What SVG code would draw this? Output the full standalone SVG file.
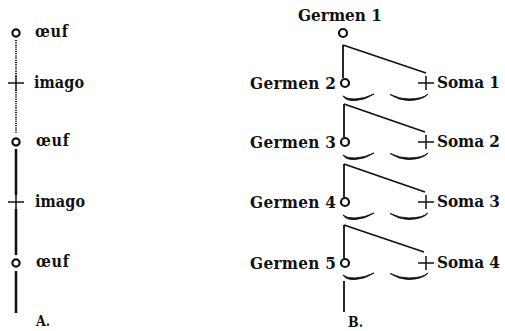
<svg xmlns="http://www.w3.org/2000/svg" width="505" height="331" viewBox="0 0 505 331">
<style>
.t{font-family:"DejaVu Serif","Liberation Serif",serif;font-weight:bold;font-stretch:condensed;fill:#111}
.la{font-size:16px}
.lb{font-size:17px}
.cap{font-size:14px}
.ring{fill:none;stroke:#111;stroke-width:2.2}
.ln{stroke:#111;fill:none;stroke-width:1.8}
.thick{stroke:#111;fill:none;stroke-width:2.6}
.dot{stroke:#111;fill:none;stroke-width:2;stroke-dasharray:1 1.2}
.cr{stroke:#111;fill:none;stroke-width:1.5}
.br{stroke:#111;fill:#111;stroke-width:0.9;stroke-linejoin:round}
</style>
<defs>
<path id="brace" class="br" d="M0,-1 Q3,4 12,3.5 Q22,3 31,-3 Q22,1.5 12,2 Q4,2.5 0,-1 Z M47,-2.5 Q56,3.5 66,3.5 Q80,3 85,-3 Q80,1.8 66,2 Q57,2 47,-2.5 Z"/>
<g id="cross"><line x1="-8" y1="0" x2="8" y2="0"/><line x1="0" y1="-7" x2="0" y2="7"/></g>
</defs>
<rect width="505" height="331" fill="#fff"/>

<!-- Panel A -->
<g id="panelA-connectors">
<line class="dot" x1="16" y1="40" x2="16" y2="77"/>
<line class="dot" x1="16" y1="90" x2="16" y2="134"/>
<line class="thick" x1="16" y1="149" x2="16" y2="195"/>
<line class="thick" x1="16" y1="209" x2="16" y2="255"/>
<line class="thick" x1="16" y1="271" x2="16" y2="313"/>
</g>
<g id="a-oeuf1"><circle class="ring" cx="16" cy="33" r="3.6"/><text class="t la" x="35" y="37" textLength="33">œuf</text></g>
<g id="a-imago1"><use href="#cross" class="cr" x="16" y="83"/><text class="t la" x="34" y="88" textLength="50">imago</text></g>
<g id="a-oeuf2"><circle class="ring" cx="16" cy="142" r="3.6"/><text class="t la" x="36" y="146" textLength="33">œuf</text></g>
<g id="a-imago2"><use href="#cross" class="cr" x="16" y="202"/><text class="t la" x="35" y="207" textLength="50">imago</text></g>
<g id="a-oeuf3"><circle class="ring" cx="16" cy="263" r="3.6"/><text class="t la" x="36" y="267" textLength="33">œuf</text></g>
<text id="labelA" class="t cap" x="36" y="326">A.</text>

<!-- Panel B -->
<g id="panelB-connectors">
<line class="ln" x1="343" y1="45" x2="343" y2="78"/>
<line class="ln" x1="343" y1="45" x2="426" y2="73"/>
<use href="#brace" x="343" y="97"/>
<line class="ln" x1="344" y1="104" x2="344" y2="137"/>
<line class="ln" x1="344" y1="104" x2="425" y2="132"/>
<use href="#brace" x="343" y="156"/>
<line class="ln" x1="344" y1="164" x2="344" y2="197"/>
<line class="ln" x1="344" y1="164" x2="425" y2="192"/>
<use href="#brace" x="343" y="216"/>
<line class="ln" x1="344" y1="225" x2="344" y2="258"/>
<line class="ln" x1="344" y1="225" x2="424" y2="252"/>
<use href="#brace" x="343" y="276"/>
<line class="ln" x1="344" y1="281" x2="344" y2="312"/>
</g>
<g id="germen1"><circle class="ring" cx="343" cy="33" r="4"/><text class="t lb" x="298" y="21" textLength="84">Germen 1</text></g>
<g id="germen2"><circle class="ring" cx="345" cy="83" r="4"/><text class="t lb" x="250" y="89" textLength="86">Germen 2</text></g>
<g id="germen3"><circle class="ring" cx="345" cy="142" r="4"/><text class="t lb" x="250" y="148" textLength="86">Germen 3</text></g>
<g id="germen4"><circle class="ring" cx="345" cy="202" r="4"/><text class="t lb" x="250" y="208" textLength="86">Germen 4</text></g>
<g id="germen5"><circle class="ring" cx="345" cy="263" r="4"/><text class="t lb" x="250" y="269" textLength="86">Germen 5</text></g>
<g id="soma1"><use href="#cross" class="cr" x="426" y="83"/><text class="t lb" x="437" y="88" textLength="63">Soma 1</text></g>
<g id="soma2"><use href="#cross" class="cr" x="426" y="142"/><text class="t lb" x="437" y="147" textLength="63">Soma 2</text></g>
<g id="soma3"><use href="#cross" class="cr" x="426" y="202"/><text class="t lb" x="437" y="207" textLength="63">Soma 3</text></g>
<g id="soma4"><use href="#cross" class="cr" x="426" y="263"/><text class="t lb" x="437" y="268" textLength="63">Soma 4</text></g>
<text id="labelB" class="t cap" x="348" y="327">B.</text>
</svg>
